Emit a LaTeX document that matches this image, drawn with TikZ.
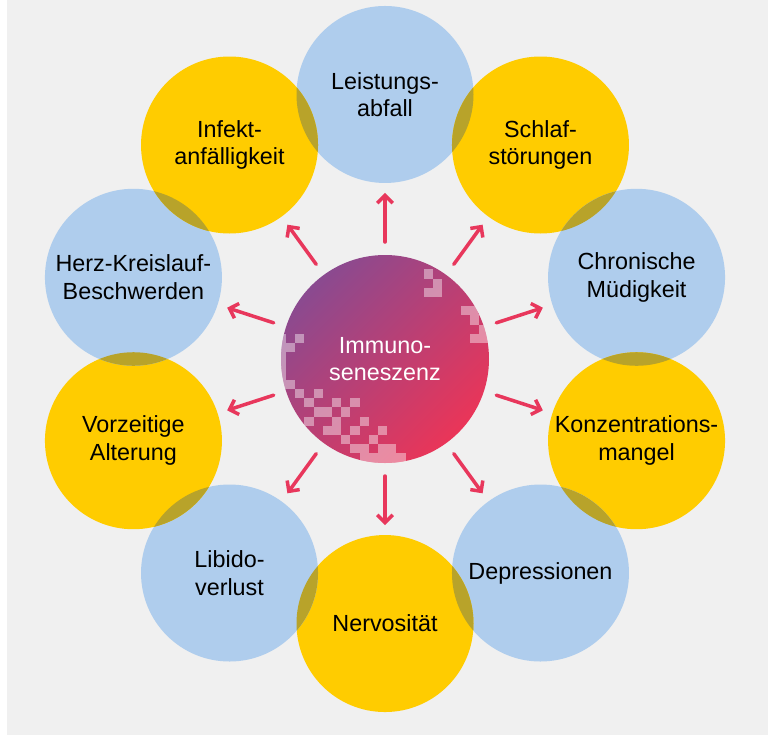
\documentclass[tikz,border=0pt]{standalone}
\usepackage{fontspec}
\setmainfont{Liberation Sans}
\usepackage{xcolor}
\usetikzlibrary{arrows.meta}

\definecolor{panelgray}{HTML}{F0F0F0}
\definecolor{sunyellow}{HTML}{FFCC00}
\definecolor{skyblue}{HTML}{AFCDED}
\definecolor{lensolive}{HTML}{B8A32A}
\definecolor{rayred}{HTML}{E8375C}
\definecolor{hubpurple}{HTML}{8A4A90}
\definecolor{hubred}{HTML}{EA3558}

\begin{document}
\begin{tikzpicture}[
  thick,  bubble/.style={circle,inner sep=0pt,outer sep=0pt,minimum size=4.425cm,align=center,text=black,font=\fontsize{16.6}{19.6}\selectfont},  ybubble/.style={bubble,fill=sunyellow},  bbubble/.style={bubble,fill=skyblue},  hub/.style={circle,inner sep=0pt,outer sep=0pt,minimum size=5.2cm,align=center,text=white,font=\fontsize{16.6}{19.6}\selectfont,top color=hubpurple,bottom color=hubred,shading angle=45},  ray/.style={draw=rayred,line width=2.5pt,line cap=round,line join=round,-{Straight Barb[length=5.5pt,width=11pt]},shorten <=0.325cm,shorten >=0.25cm},  pix/.style={fill=white,fill opacity=0.42}
]
  \useasboundingbox (-9.625,-9.4) rectangle (9.575,8.975);
  \fill[panelgray] (-9.45,-9.4) rectangle (9.575,8.975);

  \node[bbubble] (o1) at (0.000,6.613) {Leistungs-\\abfall};
  \node[ybubble] (o2) at (3.887,5.350) {Schlaf-\\störungen};
  \node[bbubble] (o3) at (6.289,2.043) {Chronische\\Müdigkeit};
  \node[ybubble] (o4) at (6.289,-2.043) {Konzentrations-\\mangel};
  \node[bbubble] (o5) at (3.887,-5.350) {Depressionen};
  \node[ybubble] (o6) at (0.000,-6.613) {Nervosität};
  \node[bbubble] (o7) at (-3.887,-5.350) {Libido-\\verlust};
  \node[ybubble] (o8) at (-6.289,-2.043) {Vorzeitige\\Alterung};
  \node[bbubble] (o9) at (-6.289,2.043) {Herz-Kreislauf-\\Beschwerden};
  \node[ybubble] (o10) at (-3.887,5.350) {Infekt-\\anfälligkeit};

  % lens where neighbours overlap
  \foreach \p/\q in {o1/o2,o2/o3,o3/o4,o4/o5,o5/o6,o6/o7,o7/o8,o8/o9,o9/o10,o10/o1} {
    \begin{scope}
      \clip (\p.center) circle (2.2125cm);
      \fill[lensolive] (\q.center) circle (2.2125cm);
    \end{scope}
  }

  \node[hub] (c) at (0,0) {Immuno-\\seneszenz};
  \begin{scope}
    \clip (c.center) circle (2.6cm);
    \foreach \i/\j in {15/0,16/1,15/2,16/2,19/4,20/4,20/5,21/6,20/7,21/7,
                       1/7,0/8,-1/7,-1/8,-1/9,-1/10,-1/11,-1/12,0/12,
                       1/13,3/13,2/14,5/14,7/14,3/15,4/15,6/15,2/16,5/16,8/16,
                       4/17,5/17,7/17,10/17,6/18,9/18,7/19,8/19,10/19,11/19,
                       8/20,9/20,10/20,11/20,12/20}
      \fill[pix] (-2.475+\i*0.23,2.2425-\j*0.23) rectangle ++(0.23,-0.23);
  \end{scope}

  \draw[ray] (c) -- (o1);
  \draw[ray] (c) -- (o2);
  \draw[ray] (c) -- (o3);
  \draw[ray] (c) -- (o4);
  \draw[ray] (c) -- (o5);
  \draw[ray] (c) -- (o6);
  \draw[ray] (c) -- (o7);
  \draw[ray] (c) -- (o8);
  \draw[ray] (c) -- (o9);
  \draw[ray] (c) -- (o10);
\end{tikzpicture}
\end{document}
